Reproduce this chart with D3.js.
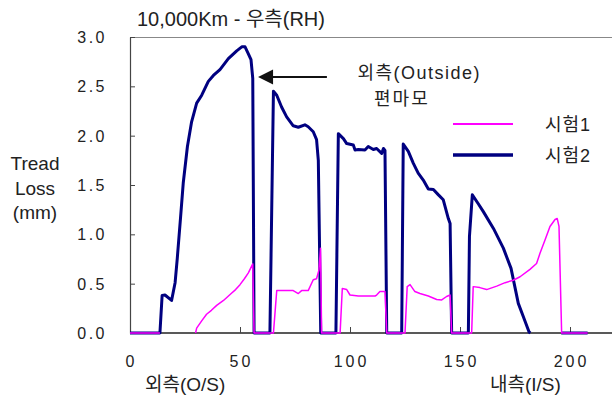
<!DOCTYPE html>
<html lang="ko">
<head>
  <meta charset="UTF-8">
  <title></title>
  <style>
    html, body {
      margin: 0;
      overflow: hidden;
      width: 100%;
      height: 100%;
      background: #fff;
    }

    svg {
      position: absolute;
      top: 0;
      left: 0;
      width: 612px;
      height: 401px;
      background: #fff;
    }

    text {
      font-family: 'Liberation Sans', 'Noto Sans CJK KR', sans-serif;
      fill: #222;
    }
  </style>
</head>
<body>
  <svg></svg>
</body>
<script src="https://d3js.org/d3.v7.min.js"></script>
<script type="text/javascript">
  // 시험1 (magenta), [position, loss mm], null = no data
  const test1 = [
    [0, 0], [13.6, 0], null,
    [29.8, 0], [30.3, 0.05], [32.5, 0.12], [34.8, 0.19], [37, 0.23], [39.4, 0.28], [42.5, 0.33],
    [46, 0.40], [48, 0.44], [50, 0.49], [52, 0.55], [53.8, 0.61], [55.8, 0.70], [56.4, 0],
    [65.2, 0], [66.7, 0.43], [70, 0.43], [74.2, 0.43], [76.5, 0.40], [78, 0.43], [81, 0.43],
    [83.3, 0.54], [84.8, 0.55], [85.9, 0.64], [86.6, 0.86], [87.1, 0],
    [95.5, 0], [96.5, 0.45], [98.5, 0.44], [100, 0.385], [103.8, 0.375], [111.4, 0.375],
    [112.1, 0.385], [113.6, 0.42], [115.9, 0.42], [116.7, 0],
    [125, 0], [126, 0.47], [127.3, 0.49], [129.5, 0.42], [131.8, 0.40], [135.6, 0.375],
    [139.4, 0.34], [141.7, 0.335], [143.9, 0.37], [145.5, 0.385], [146.2, 0],
    [155.3, 0], [156, 0.47], [159, 0.46], [162.1, 0.44], [166.7, 0.475], [170.5, 0.51],
    [174.2, 0.535], [177.3, 0.57], [181.8, 0.645], [184.8, 0.705], [186.4, 0.81], [188.6, 0.94],
    [190.9, 1.08], [193.2, 1.15], [194.2, 1.16], [195, 1.08], [196.2, 0], [208, 0]
  ]

  // 시험2 (navy)
  const test2 = [
    [0, 0], [13.6, 0], [14.6, 0.38], [15.9, 0.385], [18.9, 0.33], [20.5, 0.51], [21.5, 0.76],
    [22.9, 1.15], [24.2, 1.52], [26.1, 1.89], [28, 2.14], [30.3, 2.33], [32.6, 2.41],
    [35.6, 2.55], [37.9, 2.61], [40.9, 2.67], [44.7, 2.78], [48.5, 2.86], [50.8, 2.90],
    [52.3, 2.90], [53.8, 2.83], [55, 2.77], [55.8, 2.58], [56.4, 0],
    [63.6, 0], [65.2, 2.45], [66.7, 2.41], [68.9, 2.29], [71.2, 2.19], [74.2, 2.10], [76.5, 2.085],
    [79.5, 2.11], [81, 2.09], [83.3, 2.04], [84.8, 1.96], [85.6, 1.75], [86.7, 0],
    [93.6, 0], [94.7, 2.02], [97, 1.97], [98.5, 1.92], [101.5, 1.905], [102.3, 1.855],
    [103.8, 1.86], [106.8, 1.855], [108.3, 1.89], [110.6, 1.86], [112.1, 1.87], [114.4, 1.82],
    [115.2, 1.87], [115.9, 1.85], [116.7, 0],
    [123.5, 0], [124.2, 1.915], [126.5, 1.84], [128.8, 1.72], [131, 1.62], [133.3, 1.55],
    [135.6, 1.46], [137.9, 1.455], [140.2, 1.40], [142.4, 1.35], [144.7, 1.16], [145.5, 1.11],
    [146.2, 0],
    [153.8, 0], [154.3, 0.98], [155.6, 1.40], [158.3, 1.31], [160.6, 1.23], [165.2, 1.06],
    [169.7, 0.86], [173.2, 0.655], [176.5, 0.30], [178.8, 0.165], [181.4, 0.01], [182, 0], null,
    [196, 0], [208, 0]
  ]

  const xTicks = [0, 50, 100, 150, 200]
  const yTicks = [0, 0.5, 1.0, 1.5, 2.0, 2.5, 3.0]
  const legendNames = ['시험1', '시험2']
  const title = '10,000Km -  우측(RH)'
  const yLabel = ['Tread', 'Loss', '(mm)']
  const sideLabels = ['외측(O/S)', '내측(I/S)']
  const note = ['외측(Outside)', '편마모']

  const svg = d3.select('svg')
  const colors = ['#ff00ff', '#000080']
  const widths = [1.5, 3]

  const x = d3.scaleLinear().domain([0, 218]).range([130, 609.6])
  const y = d3.scaleLinear().domain([0, 3]).range([333, 37])

  // frame
  svg.append('line')
    .attr('x1', 130).attr('x2', 612).attr('y1', 37.5).attr('y2', 37.5)
    .attr('stroke', '#888').attr('stroke-width', 1.2)

  const xAxis = svg.append('g')
    .attr('transform', `translate(0,${y(0)})`)
    .call(d3.axisBottom(x).tickValues(xTicks).tickSizeInner(-6).tickSizeOuter(0).tickFormat(''))
  xAxis.select('.domain').attr('d', `M130,0H612`).attr('stroke', '#222').attr('stroke-width', 1.5)
  xAxis.selectAll('.tick line').attr('stroke', '#444')

  const yAxis = svg.append('g')
    .attr('transform', `translate(${x(0)},0)`)
    .call(d3.axisLeft(y).tickValues(yTicks).tickSizeInner(-5).tickSizeOuter(0).tickFormat(''))
  yAxis.select('.domain').attr('stroke', '#444').attr('stroke-width', 1.2)
  yAxis.selectAll('.tick line').attr('stroke', '#444')

  // tick labels
  svg.selectAll('.xlab')
    .data(xTicks)
    .enter()
    .append('text')
    .attr('x', d => x(d) + 1.5)
    .attr('y', 367)
    .attr('text-anchor', 'middle')
    .attr('font-size', 16)
    .attr('letter-spacing', 3)
    .text(d => d)

  svg.selectAll('.ylab')
    .data(yTicks)
    .enter()
    .append('text')
    .attr('x', 107)
    .attr('y', d => y(d) + 6)
    .attr('text-anchor', 'end')
    .attr('font-size', 16)
    .attr('letter-spacing', 2.5)
    .text(d => d.toFixed(1))

  // series
  const line = d3.line()
    .defined(d => d !== null)
    .x(d => x(d[0]))
    .y(d => y(d[1]))

  svg.selectAll('.series')
    .data([test2, test1])
    .enter()
    .append('path')
    .attr('d', line)
    .attr('fill', 'none')
    .attr('stroke', (d, i) => colors[1 - i])
    .attr('stroke-width', (d, i) => widths[1 - i])
    .attr('stroke-linejoin', 'round')

  // legend
  legendNames.forEach((name, i) => {
    const ly = 124 + i * 31
    svg.append('line')
      .attr('x1', 453).attr('x2', 513).attr('y1', ly).attr('y2', ly)
      .attr('stroke', colors[i]).attr('stroke-width', widths[i] + 0.5)
    svg.append('text')
      .attr('x', 545).attr('y', ly + 7)
      .attr('font-size', 18)
      .attr('letter-spacing', 1)
      .text(name)
  })

  // titles
  svg.append('text')
    .attr('x', 137).attr('y', 26)
    .attr('font-size', 20)
    .text(title)

  svg.selectAll('.ylabel')
    .data(yLabel)
    .enter()
    .append('text')
    .attr('x', 35)
    .attr('y', (d, i) => 170 + i * 24.5)
    .attr('text-anchor', 'middle')
    .attr('font-size', 19)
    .text(d => d)

  svg.append('text')
    .attr('x', 145).attr('y', 391)
    .attr('font-size', 19)
    .text(sideLabels[0])

  svg.append('text')
    .attr('x', 490).attr('y', 391)
    .attr('font-size', 19)
    .text(sideLabels[1])

  // annotation
  svg.append('text')
    .attr('x', x(131.5)).attr('y', 79)
    .attr('text-anchor', 'middle')
    .attr('font-size', 18)
    .attr('letter-spacing', 1.5)
    .text(note[0])

  svg.append('text')
    .attr('x', x(123.6)).attr('y', 105)
    .attr('text-anchor', 'middle')
    .attr('font-size', 18)
    .attr('letter-spacing', 2)
    .text(note[1])

  const ay = y(2.595)
  svg.append('line')
    .attr('x1', x(89.5)).attr('x2', x(64)).attr('y1', ay).attr('y2', ay)
    .attr('stroke', '#111').attr('stroke-width', 2)

  const tip = x(58.2)
  svg.append('path')
    .attr('d', `M${tip},${ay}L${tip + 15},${ay - 7.5}L${tip + 15},${ay + 7.5}Z`)
    .attr('fill', '#111')
</script>
</html>
